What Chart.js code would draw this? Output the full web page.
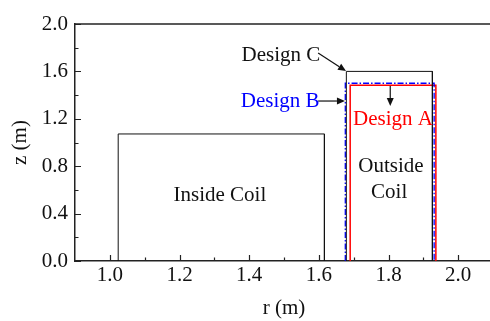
<!DOCTYPE html>
<html>
<head>
<meta charset="utf-8">
<script src="https://cdn.jsdelivr.net/npm/chart.js@4/dist/chart.umd.min.js"></script>
<style>
  html, body { margin: 0; padding: 0; overflow: hidden; background: #fff; }
  #wrap { width: 490px; height: 321px; overflow: hidden; }
</style>
</head>
<body>
<div id="wrap"><canvas id="chart" width="494" height="321"></canvas></div>
<script>
// coil cross sections (r in m, z in m)
var coilNames = ['Inside Coil', 'Design C', 'Design B', 'Design A'];
var rInner = [1.024, 1.679, 1.676, 1.690];
var rOuter = [1.616, 1.926, 1.931, 1.936];
var zTop = [1.072, 1.600, 1.500, 1.483];

// axis ticks
var rTicks = [1.0, 1.2, 1.4, 1.6, 1.8, 2.0];
var zTicks = [0.0, 0.4, 0.8, 1.2, 1.6, 2.0];

var lineColors = ['#111', '#111', '#0000ff', '#ff0000'];
var lineDash = [[], [], [6, 2, 1.5, 2], []];
var lineWidth = [1, 1, 1.3, 1.5];

function rectPoints(i) {
    return [
        {x: rInner[i], y: 0},
        {x: rInner[i], y: zTop[i]},
        {x: rOuter[i], y: zTop[i]},
        {x: rOuter[i], y: 0}
    ];
}

var datasets = [];
for (var i = 0; i < coilNames.length; i++) {
    datasets.push({
        label: coilNames[i],
        data: rectPoints(i),
        showLine: true,
        borderColor: lineColors[i],
        borderWidth: lineWidth[i],
        borderDash: lineDash[i],
        pointRadius: 0,
        fill: false
    });
}

var FONT = 'Liberation Serif, Times New Roman, serif';

// labels and arrows placed in data coordinates
var notes = [
    {text: 'Design C', r: 1.491, z: 1.738, color: '#111'},
    {text: 'Design B', r: 1.489, z: 1.346, color: '#0000ff'},
    {text: 'Design A', r: 1.813, z: 1.198, color: '#ff0000'},
    {text: 'Inside Coil', r: 1.316, z: 0.549, color: '#111'},
    {text: 'Outside', r: 1.807, z: 0.795, color: '#111'},
    {text: 'Coil', r: 1.802, z: 0.582, color: '#111'}
];
var arrows = [
    [1.598, 1.755, 1.678, 1.603],
    [1.598, 1.350, 1.675, 1.350],
    [1.805, 1.477, 1.805, 1.308]
];

var decorPlugin = {
    id: 'decor',
    afterDraw: function(chart) {
        var ctx = chart.ctx;
        var xs = chart.scales.x, ys = chart.scales.y;
        var a = chart.chartArea;
        ctx.save();
        ctx.strokeStyle = '#222';
        ctx.lineWidth = 1.5;
        // top frame line
        ctx.beginPath();
        ctx.moveTo(a.left, a.top);
        ctx.lineTo(a.right, a.top);
        ctx.stroke();

        // inward ticks
        ctx.lineWidth = 1.2;
        ctx.beginPath();
        for (var v = 1.0; v <= 2.05; v += 0.1) {
            var px = Math.round(xs.getPixelForValue(v)) + 0.5;
            var major = Math.abs(v * 5 - Math.round(v * 5)) < 0.01;
            ctx.moveTo(px, a.bottom);
            ctx.lineTo(px, a.bottom - (major ? 6 : 3.5));
        }
        for (var w = 0.0; w <= 2.05; w += 0.2) {
            var py = Math.round(ys.getPixelForValue(w)) + 0.5;
            var majorY = Math.abs(w * 2.5 - Math.round(w * 2.5)) < 0.01;
            ctx.moveTo(a.left, py);
            ctx.lineTo(a.left + (majorY ? 6 : 3.5), py);
        }
        ctx.stroke();

        // arrows
        ctx.strokeStyle = '#111';
        ctx.fillStyle = '#111';
        ctx.lineWidth = 1.2;
        arrows.forEach(function(ar) {
            var x1 = xs.getPixelForValue(ar[0]), y1 = ys.getPixelForValue(ar[1]);
            var x2 = xs.getPixelForValue(ar[2]), y2 = ys.getPixelForValue(ar[3]);
            var ang = Math.atan2(y2 - y1, x2 - x1);
            var hl = 8, hw = 3.5;
            ctx.beginPath();
            ctx.moveTo(x1, y1);
            ctx.lineTo(x2 - hl * Math.cos(ang), y2 - hl * Math.sin(ang));
            ctx.stroke();
            ctx.beginPath();
            ctx.moveTo(x2, y2);
            ctx.lineTo(x2 - hl * Math.cos(ang) + hw * Math.sin(ang), y2 - hl * Math.sin(ang) - hw * Math.cos(ang));
            ctx.lineTo(x2 - hl * Math.cos(ang) - hw * Math.sin(ang), y2 - hl * Math.sin(ang) + hw * Math.cos(ang));
            ctx.closePath();
            ctx.fill();
        });

        // text labels
        ctx.font = '21px ' + FONT;
        ctx.textAlign = 'center';
        ctx.textBaseline = 'middle';
        notes.forEach(function(n) {
            ctx.fillStyle = n.color;
            ctx.fillText(n.text, xs.getPixelForValue(n.r), ys.getPixelForValue(n.z));
        });
        ctx.restore();
    }
};

new Chart(document.getElementById('chart'), {
    type: 'scatter',
    data: {datasets: datasets},
    plugins: [decorPlugin],
    options: {
        responsive: false,
        animation: false,
        layout: {padding: {top: 24, right: 1, left: 0, bottom: 0}},
        plugins: {legend: {display: false}, tooltip: {enabled: false}},
        scales: {
            x: {
                type: 'linear',
                min: 0.9,
                max: 2.1,
                afterBuildTicks: function(s) { s.ticks = rTicks.map(function(v) { return {value: v}; }); },
                afterFit: function(s) { s.height = 60; },
                grid: {display: true, drawOnChartArea: false, drawTicks: false},
                border: {display: true, color: '#222', width: 1.5},
                ticks: {
                    color: '#111',
                    padding: 2,
                    font: {family: FONT, size: 21},
                    callback: function(v) { return Number(v).toFixed(1); }
                },
                title: {display: true, text: 'r (m)', color: '#111', padding: 0, font: {family: FONT, size: 21}}
            },
            y: {
                type: 'linear',
                min: 0,
                max: 2.0,
                afterBuildTicks: function(s) { s.ticks = zTicks.map(function(v) { return {value: v}; }); },
                afterFit: function(s) { s.width = 75; },
                grid: {display: true, drawOnChartArea: false, drawTicks: false},
                border: {display: true, color: '#222', width: 1.5},
                ticks: {
                    color: '#111',
                    padding: 7,
                    font: {family: FONT, size: 21},
                    callback: function(v) { return Number(v).toFixed(1); }
                },
                title: {display: true, text: 'z (m)', color: '#111', padding: {top: 8, bottom: 0}, font: {family: FONT, size: 21}}
            }
        }
    }
});
</script>
</body>
</html>
